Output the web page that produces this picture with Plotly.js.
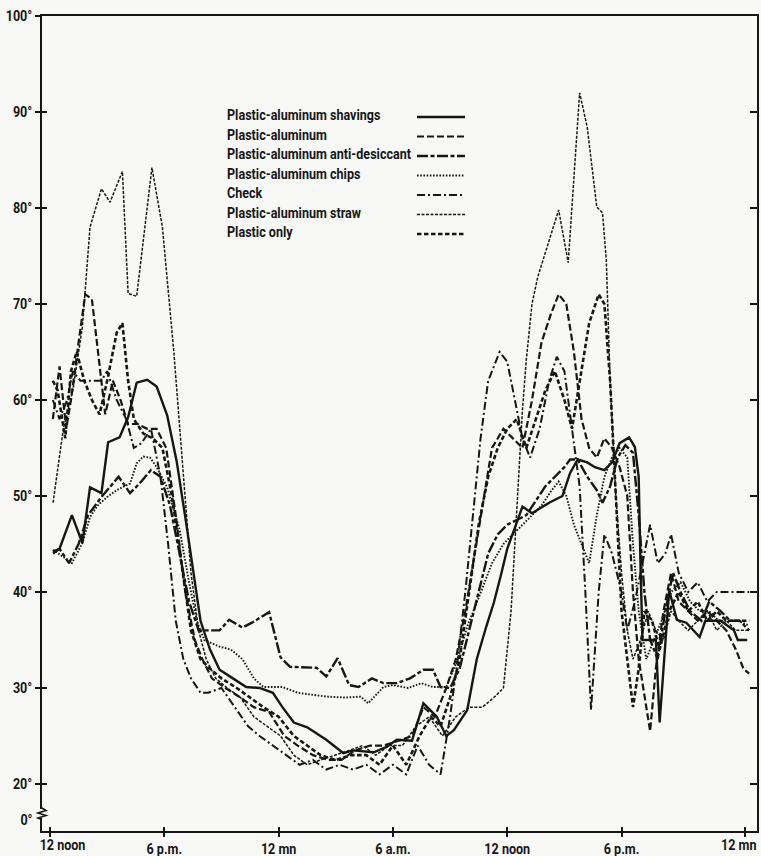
<!DOCTYPE html>
<html>
<head>
<meta charset="utf-8">
<script src="https://cdn.plot.ly/plotly-3.0.1.min.js"></script>
<style>
  html, body { margin: 0; padding: 0; background: #f8f8f6; }
  #chart { width: 761px; height: 856px; }
</style>
</head>
<body>
<div id="chart"></div>
<script>
// ---- Data (hours after 12 noon, temperature in degrees F) ----
const seriesNames = [
  "Plastic-aluminum shavings",
  "Plastic-aluminum",
  "Plastic-aluminum anti-desiccant",
  "Plastic-aluminum chips",
  "Check",
  "Plastic-aluminum straw",
  "Plastic only"
];

const tickHours = [0, 6, 12, 18, 24, 30, 36.5];
const tickLabels = ["12 noon", "6 p.m.", "12 mn", "6 a.m.", "12 noon", "6 p.m.", "12 mn"];
const yTickValues = [20, 30, 40, 50, 60, 70, 80, 90, 100];
const yTickLabels = ["20°", "30°", "40°", "50°", "60°", "70°", "80°", "90°", "100°"];

const hShavings = [0.15,0.5,1.15,1.7,2.1,2.7,3.05,3.65,4.1,4.55,5.1,5.6,6.15,6.65,7.2,7.5,7.9,8.4,8.9,9.6,10.3,11.0,11.7,12.2,12.8,13.5,14.5,15.4,15.9,17.0,17.7,18.2,19.0,19.6,20.3,20.8,21.2,21.9,22.4,22.9,23.3,23.7,24.0,24.8,25.3,26.2,26.9,27.3,27.7,28.2,28.6,29.1,29.5,29.9,30.4,30.7,30.9,31.0,31.1,31.8,32.0,32.5,32.9,33.4,34.1,34.4,35.2,35.9,36.1,36.6];
const tShavings = [44.2,44.5,48,45.1,50.9,50.3,55.6,56.1,58.2,61.8,62.1,61.4,58.4,53.6,46.5,42.3,37,34,31.9,31,30.1,30,29.5,28,26.4,25.9,24.6,23.2,23.5,23.3,23.9,24.6,24.5,28.4,27,25,25.6,27.7,33,36.4,38.9,42,44.5,48.9,48.2,49.3,50,52.4,53.8,53.5,53,52.7,53.5,55.5,56.1,55.1,52,42.3,35,35,26.4,40.2,37.1,36.8,35.3,37,37,36,35,35];

const hPlasticAl = [0.15,0.5,0.85,1.1,1.5,1.85,2.2,2.6,2.9,3.3,3.7,4.1,4.6,5.1,5.6,6.1,6.6,7.1,7.6,8.0,8.5,9.2,10,10.7,11.5,12.3,13,13.8,14.6,15.3,16,16.8,17.5,18.3,19,19.6,20.2,20.8,21.3,21.8,22.3,22.8,23.2,23.8,24.3,24.8,25.3,25.8,26.3,26.7,27.1,27.5,27.9,28.3,28.7,29.1,29.5,29.9,30.3,30.6,30.9,31.3,31.5,31.8,32.2,32.6,33.0,33.5,34,34.5,35,35.5,36,36.4,36.7];
const tPlasticAl = [58,63.5,57,60,66,71,70.5,64,58.5,62,60,57.5,57.5,57,57,55,48,40,35,33,31,30,29,28,27.5,25,24,23,22.5,22.5,23.5,24,24,24.5,25,28,27,30,33,38,44,50,55,57,56,55,60,66,69,71,70,65,58,55,54,56,55,53,50,40,33,28,25.5,32,38,42,39,38,37,38,37,36,34,32,31.5];

const hAntiDes = [0.16,0.5,1.0,1.5,2.0,2.7,3.6,4.2,4.7,5.3,5.8,6.3,6.8,7.3,7.8,8.3,8.9,9.4,10.1,10.6,11.5,12.1,12.6,14.0,14.5,15.1,15.7,16.2,16.9,17.5,18.2,18.9,19.6,20.1,20.5,21.0,21.5,22,22.5,23,23.5,24,24.5,25,25.5,26,26.5,27,27.3,27.7,28.2,28.7,29.0,29.4,29.8,30.2,30.6,30.9,31.2,31.5,31.9,32.3,32.7,33.1,33.6,34.2,34.6,35.2,35.7,36.2,36.7];
const tAntiDes = [44,44.5,43,45,48,49.9,52,50.3,51.3,52.7,52,49,44,39,36,36,36,37.1,36.3,36.8,37.9,33.2,32.2,32.1,31.2,33.1,30.3,30.1,31,30.5,30.5,31,31.9,31.9,30.1,30,32,36,40,44,46,47,47.5,48,49.5,51,52,53,53.8,53.8,52,50.6,49.3,51,54,55.3,54.5,48,40,35,33,38,42,40,38,37,39,38,37,37,36];

const hChips = [0.16,1.15,1.7,2.1,2.5,3.0,3.5,4.2,4.55,4.9,5.25,5.6,6.15,6.8,7.3,7.7,8.1,8.9,9.5,10.1,10.7,11.2,12.2,13.0,14.5,15.5,16.3,16.7,17.5,18,18.8,19.5,20.1,20.8,21.4,21.9,22.6,23.2,23.8,24.3,24.8,25.3,25.8,26.3,26.7,27.1,27.5,27.9,28.3,28.7,29.1,29.5,29.9,30.3,30.6,30.9,31.3,31.7,32.1,32.6,33.1,33.6,34.1,34.6,35.1,35.6,36.1,36.7];
const tChips = [44.4,43,45.1,47.8,49,49.9,50.6,51.3,53.4,54.1,54,53,50.9,46.5,41,37,35,34.3,34,33,31,30.1,30.1,29.5,29.1,29,29.1,28.4,30.1,30.3,30,30.5,30.1,30.1,33,36.4,39.9,43,45,46,47,48,49,50.5,51.5,50,47,45,43,48,52,54,55,54,45,38,33,35,37,40,41,39,38,38,37,37,37,36.5];

const hCheck = [0.15,0.5,0.9,1.2,1.6,2.2,2.7,3.0,3.5,4.0,4.4,4.8,5.3,5.8,6.2,6.6,7.0,7.4,7.9,8.3,9,9.7,10.4,11,11.7,12.4,13.1,13.8,14.5,15.2,15.9,16.6,17.3,18,18.7,19.3,19.9,20.5,21,21.4,21.8,22.2,22.6,23.0,23.6,24.0,24.4,24.8,25.2,25.7,26.2,26.6,27.0,27.4,27.8,28.1,28.4,28.8,29.1,29.5,30,30.3,30.7,31.1,31.5,31.9,32.3,32.6,33,33.5,34,34.5,35,35.5,36,36.7];
const tCheck = [60,58,60,63,62,62,62,63,60,58,55,55.5,57,52,45,37,33,31,29.5,29.5,30,28,26,25,24,23,22,22.5,21.5,22,21.5,22,21,22,21,24,22,21,27,33,40,48,56,62,65,64,60,56,54,57,62,64.5,63,57,51,40,27.7,40,46,44,40,36,39,43,47,43,44,46,42,40,41,39,40,40,40,40];

const hStraw = [0.16,0.7,1.2,1.7,2.1,2.7,3.15,3.8,4.1,4.55,5.35,5.9,6.5,7.0,7.4,7.8,8.2,8.7,9.3,10,10.7,11.4,12.1,12.8,13.5,14.2,15,15.7,16.4,17.1,17.8,18.5,19.2,19.9,20.6,21.3,22,22.7,23.3,23.8,24.2,24.4,24.6,24.8,25.0,25.3,25.6,26.2,26.7,27.2,27.8,28.2,28.7,29.0,29.2,29.4,29.7,30.0,30.3,30.6,31,31.4,31.8,32.2,32.6,33,33.5,34,34.5,35,35.5,36,36.7];
const tStraw = [49.3,57,61,67.6,78,82,80.6,83.8,71.1,70.8,84.2,78,65,52,42,36,33,31,30,29,27,26,25,23,22,22.5,23,23.5,24,23,24,24,26,27,25,27,28,28,29,30,38,45,52,59,64.2,70,72.8,76.5,79.8,74.3,92,88.4,80.1,79.5,74.6,62,50,42,36,33,35,38,36,35,38,37,36,37,38,36,37,36,36];

const hPlasticOnly = [0.15,0.4,0.8,1.1,1.4,1.8,2.2,2.6,3.0,3.5,3.8,4.1,4.4,4.9,5.4,5.9,6.4,6.9,7.4,7.9,8.4,9,9.8,10.5,11.2,12,12.8,13.5,14.2,15,15.8,16.6,17.3,18,18.7,19.4,20,20.5,21,21.5,22,22.5,23,23.5,24,24.5,25,25.5,26,26.5,27,27.4,27.8,28.3,28.8,29.1,29.4,29.7,30,30.3,30.6,30.9,31.2,31.6,32,32.5,33,33.5,34,34.5,35,35.5,36,36.7];
const tPlasticOnly = [62,61,56,63,65,62,60,58.5,62,67,68,62,58,56.5,56,55,50,43,36,33,32,31,30,29,28,27,25,24,23,22.5,23,23,22,24,22,25,27,26,29,33,40,47,52,55,57,58,55,58,61,63,60,57,62,68,71,70,62,50,38,33,28,32,38,37,34,38,40,38,39,37,38,37,37,37];

// ---- Styles ----
const INK = "#161616";
const BG = "#f8f8f6";
const FONT = "Roboto, 'Noto Sans', sans-serif";
const styles = [
  {dash: "solid", width: 2.4},
  {dash: "7px,3px", width: 2.2},
  {dash: "11px,2.5px,4px,2.5px", width: 2.4},
  {dash: "1.6px,1.6px", width: 1.9},
  {dash: "8px,3px,2px,3px", width: 2.0},
  {dash: "3px,1.5px", width: 1.5},
  {dash: "4.5px,2.5px", width: 2.6}
];
const xs = [hShavings, hPlasticAl, hAntiDes, hChips, hCheck, hStraw, hPlasticOnly];
const ys = [tShavings, tPlasticAl, tAntiDes, tChips, tCheck, tStraw, tPlasticOnly];

const traces = seriesNames.map((name, i) => ({
  type: "scatter", mode: "lines", name: name,
  x: xs[i], y: ys[i],
  line: {color: INK, width: styles[i].width, dash: styles[i].dash},
  showlegend: false, hoverinfo: "skip"
}));
// empty helper traces so overlay axes (crossing / inside ticks) are drawn
traces.push({type: "scatter", x: [], y: [], xaxis: "x", yaxis: "y2", showlegend: false});
traces.push({type: "scatter", x: [], y: [], xaxis: "x", yaxis: "y3", showlegend: false});
traces.push({type: "scatter", x: [], y: [], xaxis: "x2", yaxis: "y", showlegend: false});

// ---- Geometry (pixel frame) ----
const W = 761, H = 856;
const L = 42, R = 757, T = 16, B = 831;
const px2x = p => (p - L) / (R - L);
const px2y = p => (B - p) / (B - T);
const X_RANGE = [-0.42, 37.11];
const Y_RANGE = [15.1, 100];

const tickFont = {family: FONT, size: 14, color: INK, weight: "bold"};

const annotations = [];
const shapes = [];

// legend (text left, sample right)
const legendRows = [115, 134.5, 154, 173.5, 193, 212.5, 232];
seriesNames.forEach((name, i) => {
  annotations.push({
    xref: "paper", yref: "paper", x: px2x(225), y: px2y(legendRows[i]),
    xanchor: "left", yanchor: "middle", showarrow: false,
    text: name, font: {family: FONT, size: 14, color: INK, weight: "bold"}
  });
  shapes.push({
    type: "line", xref: "paper", yref: "paper",
    x0: px2x(417), x1: px2x(465), y0: px2y(legendRows[i] + 2), y1: px2y(legendRows[i] + 2),
    line: {color: INK, width: styles[i].width, dash: styles[i].dash}
  });
});

// first and last x labels placed as in the original (not centred on their ticks)
annotations.push({
  xref: "paper", yref: "paper", x: px2x(62.5), y: px2y(845),
  xanchor: "center", yanchor: "middle", showarrow: false,
  text: tickLabels[0], font: tickFont
});
annotations.push({
  xref: "paper", yref: "paper", x: px2x(759), y: px2y(845),
  xanchor: "right", yanchor: "middle", showarrow: false,
  text: tickLabels[6], font: tickFont
});
// "0°" label beside the axis break
annotations.push({
  xref: "paper", yref: "paper", x: px2x(35), y: px2y(820),
  xanchor: "right", yanchor: "middle", showarrow: false,
  text: "0°", font: tickFont
});

// axis break symbol
shapes.push({
  type: "rect", xref: "paper", yref: "paper",
  x0: px2x(38), x1: px2x(47), y0: px2y(818), y1: px2y(809),
  fillcolor: BG, line: {width: 0}, layer: "above"
});
shapes.push({
  type: "path", xref: "paper", yref: "paper", layer: "above",
  path: `M ${px2x(42)},${px2y(808)} L ${px2x(46)},${px2y(810.5)} L ${px2x(38)},${px2y(813)} L ${px2x(46)},${px2y(815.5)} L ${px2x(38)},${px2y(818)} L ${px2x(42)},${px2y(819.5)}`,
  line: {color: INK, width: 1.6}
});

const layout = {
  width: W, height: H,
  margin: {l: L, r: W - R, t: T, b: H - B, pad: 0},
  paper_bgcolor: BG, plot_bgcolor: BG,
  showlegend: false,
  font: {family: FONT, color: INK},
  xaxis: {
    range: X_RANGE, showgrid: false, zeroline: false,
    showline: true, linecolor: INK, linewidth: 2, mirror: true,
    ticks: "outside", ticklen: 4, tickwidth: 2, tickcolor: INK,
    tickmode: "array", tickvals: tickHours,
    ticktext: ["", ...tickLabels.slice(1, 6), ""],
    tickfont: tickFont, ticklabeloverflow: "allow"
  },
  xaxis2: {
    overlaying: "x", anchor: "y", side: "bottom", range: X_RANGE,
    showgrid: false, zeroline: false, showline: false,
    ticks: "inside", ticklen: 4, tickwidth: 2, tickcolor: INK,
    tickmode: "array", tickvals: tickHours, showticklabels: false
  },
  yaxis: {
    range: Y_RANGE, showgrid: false, zeroline: false,
    showline: true, linecolor: INK, linewidth: 2, mirror: true,
    ticks: "outside", ticklen: 5, tickwidth: 2, tickcolor: INK,
    tickmode: "array", tickvals: yTickValues, ticktext: yTickLabels,
    tickfont: tickFont, ticklabeloverflow: "allow"
  },
  yaxis2: {
    overlaying: "y", anchor: "x", side: "right", range: Y_RANGE,
    showgrid: false, zeroline: false, showline: false,
    ticks: "inside", ticklen: 7, tickwidth: 2, tickcolor: INK,
    tickmode: "array", tickvals: yTickValues, showticklabels: false
  },
  yaxis3: {
    overlaying: "y", anchor: "x", side: "left", range: Y_RANGE,
    showgrid: false, zeroline: false, showline: false,
    ticks: "inside", ticklen: 5, tickwidth: 2, tickcolor: INK,
    tickmode: "array", tickvals: yTickValues, showticklabels: false
  },
  annotations: annotations,
  shapes: shapes
};

// condense all text horizontally (the original uses a condensed typeface),
// keeping each text's anchor edge where Plotly placed it
function condenseText() {
  let longestW = 0;
  document.querySelectorAll("#chart .annotation-text").forEach(t => {
    if (t.textContent === seriesNames[2]) longestW = t.getComputedTextLength();
  });
  const factor = longestW > 0 ? Math.min(1, 184 / longestW) : 0.85;
  const squeeze = (t, anchor) => {
    const w = t.getComputedTextLength();
    if (!(w > 0)) return;
    const x = parseFloat(t.getAttribute("x")) || 0;
    const cur = t.getAttribute("text-anchor") || "start";
    // convert current anchor position to the requested edge
    let left = cur === "middle" ? x - w / 2 : cur === "end" ? x - w : x;
    let nx = left, na = "start";
    if (anchor === "middle") { nx = left + w / 2; na = "middle"; }
    else if (anchor === "end") { nx = left + w; na = "end"; }
    t.setAttribute("x", nx.toFixed(2));
    t.setAttribute("text-anchor", na);
    t.querySelectorAll("tspan").forEach(s => { if (s.hasAttribute("x")) s.setAttribute("x", nx.toFixed(2)); });
    t.setAttribute("textLength", (w * factor).toFixed(2));
    t.setAttribute("lengthAdjust", "spacingAndGlyphs");
  };
  document.querySelectorAll("#chart .xtick text").forEach(t => squeeze(t, "middle"));
  document.querySelectorAll("#chart .ytick text").forEach(t => squeeze(t, "end"));
  document.querySelectorAll("#chart g.annotation").forEach(g => {
    const idx = parseInt(g.getAttribute("data-index"), 10);
    const ann = layout.annotations[idx];
    const t = g.querySelector("text.annotation-text");
    if (!t || !ann) return;
    const a = ann.xanchor === "left" ? "start" : ann.xanchor === "right" ? "end" : "middle";
    squeeze(t, a);
  });
}

Plotly.newPlot("chart", traces, layout, {staticPlot: true, displayModeBar: false}).then(condenseText);
</script>
</body>
</html>
